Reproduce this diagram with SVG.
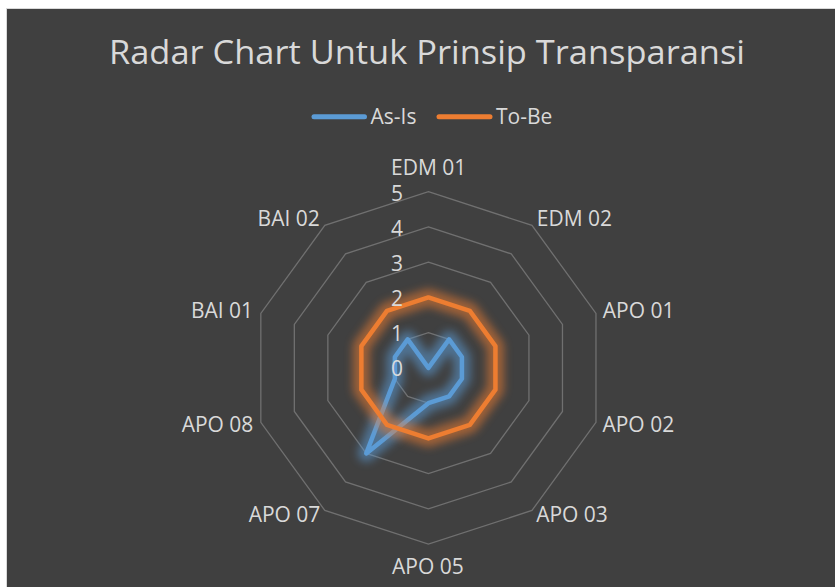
<svg xmlns="http://www.w3.org/2000/svg" width="835" height="587" viewBox="0 0 835 587">
  <defs>
    <style>
      .lbl { font-family: "Open Sans", "Noto Sans", "Liberation Sans", sans-serif; fill: #d9d9d9; font-size: 21px; }
      .cat { text-anchor: middle; }
      .tick { text-anchor: end; }
      .ring { fill: none; stroke: #707070; stroke-width: 1.3; }
      .series { fill: none; stroke-width: 4.5; stroke-linejoin: round; }
      .glow { fill: none; stroke-width: 17; stroke-linejoin: round; opacity: 0.55; filter: url(#soft); }
      .asis { stroke: #5b9bd5; }
      .tobe { stroke: #ed7d31; }
    </style>
    <filter id="soft" x="-40%" y="-40%" width="180%" height="180%">
      <feGaussianBlur stdDeviation="4"/>
    </filter>
  </defs>

  <!-- page and chart area -->
  <rect x="0" y="0" width="835" height="587" fill="#ffffff"/>
  <rect id="chart-area" x="6.5" y="8.5" width="840" height="590" fill="#404040" stroke="#d9d9d9" stroke-width="1"/>

  <!-- title -->
  <text id="title" class="lbl" x="427" y="64.3" text-anchor="middle" style="font-size:32px" textLength="636" lengthAdjust="spacingAndGlyphs">Radar Chart Untuk Prinsip Transparansi</text>

  <!-- legend -->
  <g id="legend">
    <line x1="314" y1="116.7" x2="364.5" y2="116.7" stroke="#5b9bd5" stroke-width="5" stroke-linecap="round"/>
    <text class="lbl" x="370.5" y="124">As-Is</text>
    <line x1="439" y1="116.7" x2="490" y2="116.7" stroke="#ed7d31" stroke-width="5" stroke-linecap="round"/>
    <text class="lbl" x="496" y="124">To-Be</text>
  </g>

  <!-- radar plot, origin at the centre of the web -->
  <g id="radar" transform="translate(428.4,367.9)">
    <g id="grid">
      <polygon class="ring" points="0,-35.24 20.71,-28.51 33.52,-10.89 33.52,10.89 20.71,28.51 0,35.24 -20.71,28.51 -33.52,10.89 -33.52,-10.89 -20.71,-28.51"/>
      <polygon class="ring" points="0,-70.48 41.43,-57.02 67.03,-21.78 67.03,21.78 41.43,57.02 0,70.48 -41.43,57.02 -67.03,21.78 -67.03,-21.78 -41.43,-57.02"/>
      <polygon class="ring" points="0,-105.72 62.14,-85.53 100.55,-32.67 100.55,32.67 62.14,85.53 0,105.72 -62.14,85.53 -100.55,32.67 -100.55,-32.67 -62.14,-85.53"/>
      <polygon class="ring" points="0,-140.96 82.86,-114.04 134.06,-43.56 134.06,43.56 82.86,114.04 0,140.96 -82.86,114.04 -134.06,43.56 -134.06,-43.56 -82.86,-114.04"/>
      <polygon class="ring" points="0,-176.2 103.57,-142.55 167.58,-54.45 167.58,54.45 103.57,142.55 0,176.2 -103.57,142.55 -167.58,54.45 -167.58,-54.45 -103.57,-142.55"/>
    </g>

    <!-- As-Is series: 0,1,1,1,1,1,3,1,1,1 -->
    <g id="series-asis">
      <polygon class="glow asis" points="0,0 20.71,-28.51 33.52,-10.89 33.52,10.89 20.71,28.51 0,35.24 -62.14,85.53 -33.52,10.89 -33.52,-10.89 -20.71,-28.51"/>
      <polygon class="series asis" points="0,0 20.71,-28.51 33.52,-10.89 33.52,10.89 20.71,28.51 0,35.24 -62.14,85.53 -33.52,10.89 -33.52,-10.89 -20.71,-28.51"/>
    </g>

    <!-- To-Be series: 2 on every axis -->
    <g id="series-tobe">
      <polygon class="glow tobe" points="0,-70.48 41.43,-57.02 67.03,-21.78 67.03,21.78 41.43,57.02 0,70.48 -41.43,57.02 -67.03,21.78 -67.03,-21.78 -41.43,-57.02"/>
      <polygon class="series tobe" points="0,-70.48 41.43,-57.02 67.03,-21.78 67.03,21.78 41.43,57.02 0,70.48 -41.43,57.02 -67.03,21.78 -67.03,-21.78 -41.43,-57.02"/>
    </g>
  </g>

  <!-- value scale -->
  <g id="scale">
    <text class="lbl tick" x="403" y="201">5</text>
    <text class="lbl tick" x="403" y="236">4</text>
    <text class="lbl tick" x="403" y="271">3</text>
    <text class="lbl tick" x="403" y="306">2</text>
    <text class="lbl tick" x="403" y="341">1</text>
    <text class="lbl tick" x="403" y="376">0</text>
  </g>

  <!-- category labels -->
  <g id="categories">
    <text class="lbl cat" x="428.7" y="175">EDM 01</text>
    <text class="lbl cat" x="574.5" y="225.7">EDM 02</text>
    <text class="lbl cat" x="638.7" y="317.7">APO 01</text>
    <text class="lbl cat" x="638.3" y="432.3">APO 02</text>
    <text class="lbl cat" x="572" y="522.3">APO 03</text>
    <text class="lbl cat" x="427.9" y="574">APO 05</text>
    <text class="lbl cat" x="284.5" y="522.3">APO 07</text>
    <text class="lbl cat" x="217.5" y="432.3">APO 08</text>
    <text class="lbl cat" x="222" y="317.7">BAI 01</text>
    <text class="lbl cat" x="288.7" y="225.7">BAI 02</text>
  </g>
</svg>
